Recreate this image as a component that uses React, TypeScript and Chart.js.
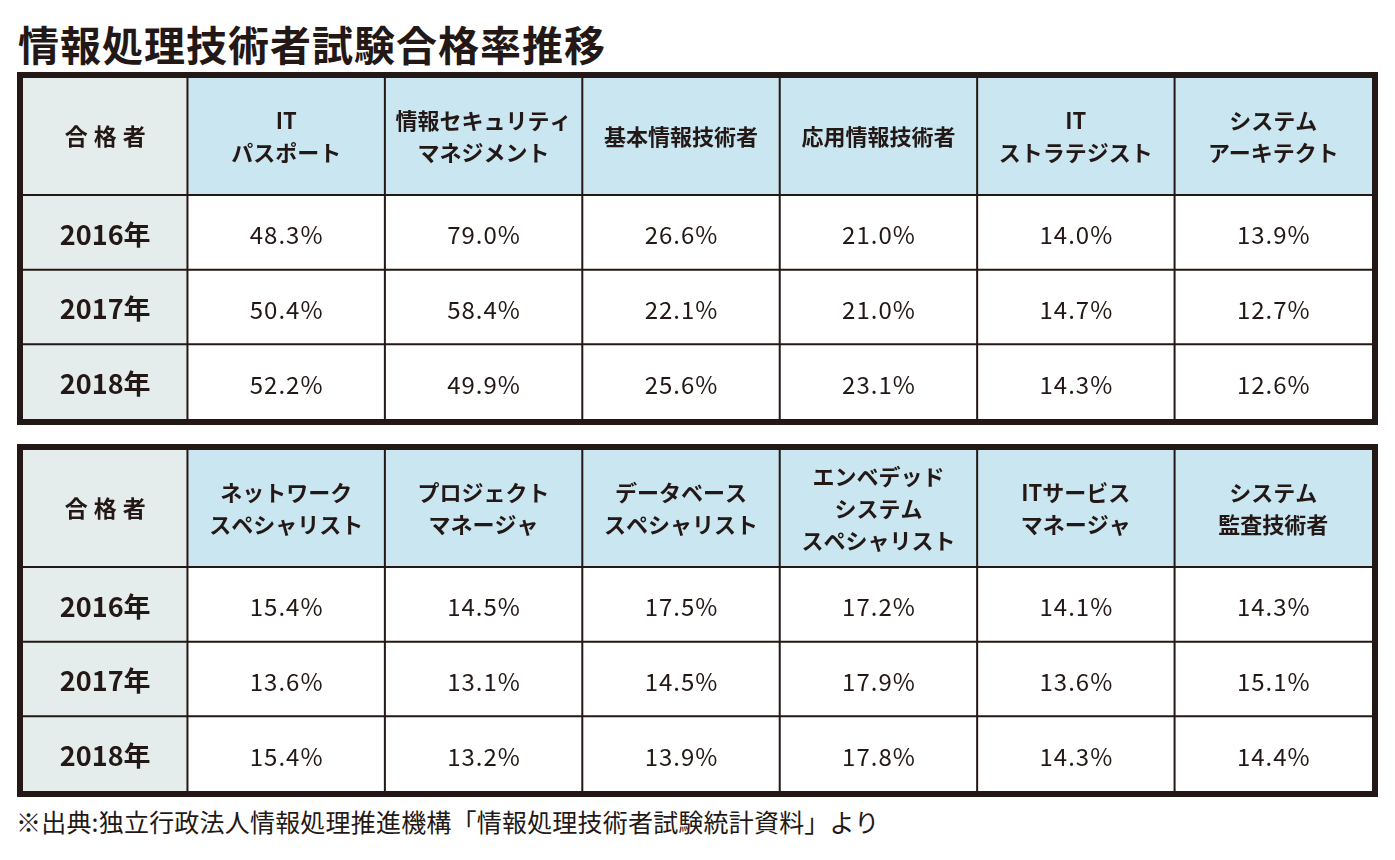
import React, { useEffect, useRef } from "react";
import { Chart, registerables } from "chart.js";

Chart.register(...registerables);

// ---------- data ----------
const TITLE = "情報処理技術者試験合格率推移";
const FOOTNOTE = "※出典:独立行政法人情報処理推進機構「情報処理技術者試験統計資料」より";
const CORNER_LABEL = "合格者";
const YEARS = ["2016年", "2017年", "2018年"];

const EXAMS_A = [
  ["IT", "パスポート"],
  ["情報セキュリティ", "マネジメント"],
  ["基本情報技術者"],
  ["応用情報技術者"],
  ["IT", "ストラテジスト"],
  ["システム", "アーキテクト"],
];
const RATES_A_2016 = [48.3, 79.0, 26.6, 21.0, 14.0, 13.9];
const RATES_A_2017 = [50.4, 58.4, 22.1, 21.0, 14.7, 12.7];
const RATES_A_2018 = [52.2, 49.9, 25.6, 23.1, 14.3, 12.6];

const EXAMS_B = [
  ["ネットワーク", "スペシャリスト"],
  ["プロジェクト", "マネージャ"],
  ["データベース", "スペシャリスト"],
  ["エンベデッド", "システム", "スペシャリスト"],
  ["ITサービス", "マネージャ"],
  ["システム", "監査技術者"],
];
const RATES_B_2016 = [15.4, 14.5, 17.5, 17.2, 14.1, 14.3];
const RATES_B_2017 = [13.6, 13.1, 14.5, 17.9, 13.6, 15.1];
const RATES_B_2018 = [15.4, 13.2, 13.9, 17.8, 14.3, 14.4];

// ---------- style ----------
const FONT = '"Noto Sans CJK JP", "Noto Sans", sans-serif';
const INK = "#231815";
const HEADER_BG = "#cae6f0";
const SIDE_BG = "#e4ecec";
const BORDER = 6;
const FIRST_COL_SPAN = 0.833; // width of the label column, in column units
const HEADER_SPAN = 1.567; // height of the header row, in row units

function makeTablePlugin(headers: string[][]) {
  return {
    id: "tableCells",
    beforeDatasetsDraw(chart: any) {
      const { ctx, chartArea: a, scales } = chart;
      const x = scales.x;
      const y = scales.y;
      const xs = [x.min, ...headers.map((_, i) => i), headers.length].map((v: number) =>
        x.getPixelForValue(v)
      );
      const ys = [y.min, ...YEARS.map((_, i) => i), YEARS.length].map((v: number) =>
        y.getPixelForValue(v)
      );
      ctx.save();
      for (let r = 0; r < ys.length - 1; r++) {
        for (let c = 0; c < xs.length - 1; c++) {
          ctx.fillStyle = c === 0 ? SIDE_BG : r === 0 ? HEADER_BG : "#ffffff";
          ctx.fillRect(xs[c], ys[r], xs[c + 1] - xs[c], ys[r + 1] - ys[r]);
        }
      }
      ctx.strokeStyle = INK;
      ctx.lineWidth = 2;
      ctx.beginPath();
      for (let c = 1; c < xs.length - 1; c++) {
        ctx.moveTo(xs[c], a.top);
        ctx.lineTo(xs[c], a.bottom);
      }
      for (let r = 1; r < ys.length - 1; r++) {
        ctx.moveTo(a.left, ys[r]);
        ctx.lineTo(a.right, ys[r]);
      }
      ctx.stroke();
      ctx.lineWidth = BORDER;
      ctx.strokeRect(
        a.left - BORDER / 2,
        a.top - BORDER / 2,
        a.width + BORDER,
        a.height + BORDER
      );

      // header texts
      ctx.fillStyle = INK;
      ctx.textAlign = "center";
      ctx.textBaseline = "middle";
      const hy = (ys[0] + ys[1]) / 2;
      ctx.font = `bold 23px ${FONT}`;
      (ctx as any).letterSpacing = "6px";
      ctx.fillText(CORNER_LABEL, (xs[0] + xs[1]) / 2 + 3, hy);
      (ctx as any).letterSpacing = "0px";
      ctx.font = `bold 22px ${FONT}`;
      const LH = 32;
      headers.forEach((lines, c) => {
        const cx = (xs[c + 1] + xs[c + 2]) / 2;
        lines.forEach((t, i) => {
          ctx.fillText(t, cx, hy + (i - (lines.length - 1) / 2) * LH);
        });
      });
      // year labels
      ctx.font = `bold 27px ${FONT}`;
      YEARS.forEach((yr, r) => {
        ctx.fillText(yr, (xs[0] + xs[1]) / 2, (ys[r + 1] + ys[r + 2]) / 2 + 2);
      });
      ctx.restore();
    },
    afterDatasetsDraw(chart: any) {
      const { ctx } = chart;
      ctx.save();
      ctx.fillStyle = INK;
      ctx.textAlign = "center";
      ctx.textBaseline = "middle";
      ctx.font = `24px ${FONT}`;
      (ctx as any).letterSpacing = "1px";
      chart.data.datasets.forEach((ds: any, di: number) => {
        const meta = chart.getDatasetMeta(di);
        meta.data.forEach((el: any, i: number) => {
          const v = ds.data[i].v as number;
          ctx.fillText(v.toFixed(1) + "%", el.x + 0.5, el.y + 3);
        });
      });
      ctx.restore();
    },
  };
}

function TableChart(props: { top: number; headers: string[][]; series: number[][] }) {
  const ref = useRef<HTMLCanvasElement>(null);
  useEffect(() => {
    const chart = new Chart(ref.current as HTMLCanvasElement, {
      type: "scatter",
      data: {
        datasets: props.series.map((vals, r) => ({
          label: YEARS[r],
          data: vals.map((v, c) => ({ x: c + 0.5, y: r + 0.5, v })),
          pointRadius: 0,
        })),
      } as any,
      options: {
        animation: false,
        responsive: false,
        events: [],
        layout: { padding: BORDER },
        plugins: { legend: { display: false }, tooltip: { enabled: false } },
        scales: {
          x: { type: "linear", min: -FIRST_COL_SPAN, max: props.headers.length, display: false },
          y: { type: "linear", min: -HEADER_SPAN, max: YEARS.length, reverse: true, display: false },
        },
      },
      plugins: [makeTablePlugin(props.headers)],
    } as any);
    return () => chart.destroy();
  }, []);
  return (
    <canvas
      ref={ref}
      width={1361}
      height={353}
      style={{ position: "absolute", left: 17, top: props.top, width: 1361, height: 353 }}
    />
  );
}

export default function App() {
  return (
    <div
      style={{
        position: "absolute",
        left: 0,
        top: 0,
        width: 1395,
        height: 860,
        background: "#ffffff",
        overflow: "hidden",
      }}
    >
      <div
        style={{
          position: "absolute",
          left: 18,
          top: 23,
          fontFamily: FONT,
          fontWeight: 700,
          fontSize: 41,
          lineHeight: "41px",
          letterSpacing: 1,
          color: INK,
          whiteSpace: "nowrap",
        }}
      >
        {TITLE}
      </div>
      <TableChart top={72} headers={EXAMS_A} series={[RATES_A_2016, RATES_A_2017, RATES_A_2018]} />
      <TableChart top={444} headers={EXAMS_B} series={[RATES_B_2016, RATES_B_2017, RATES_B_2018]} />
      <div
        style={{
          position: "absolute",
          left: 16,
          top: 806,
          fontFamily: FONT,
          fontSize: 25,
          lineHeight: "30px",
          letterSpacing: 0.2,
          color: INK,
          whiteSpace: "nowrap",
        }}
      >
        {FOOTNOTE}
      </div>
    </div>
  );
}
